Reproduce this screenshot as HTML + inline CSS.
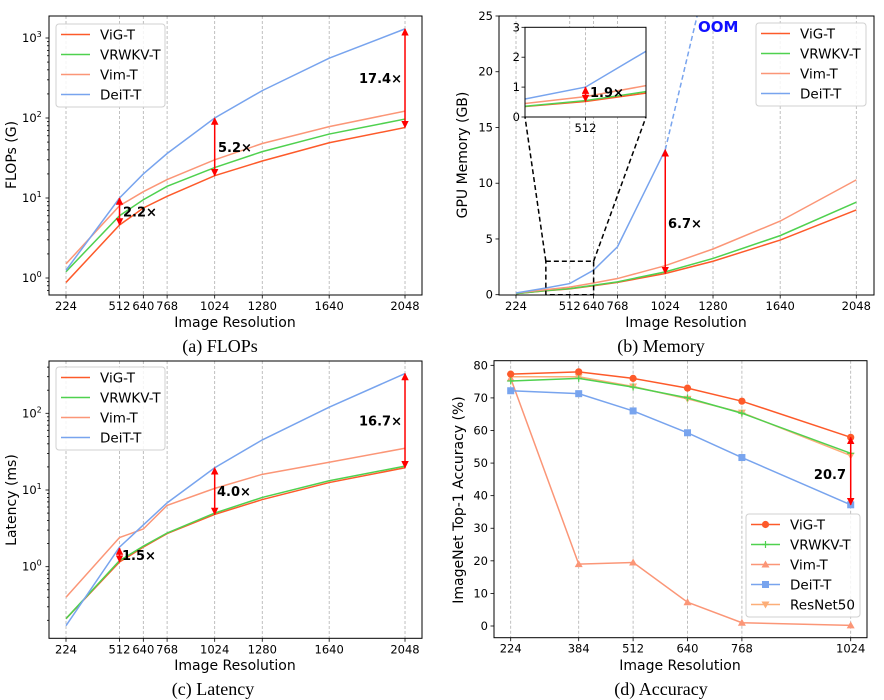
<!DOCTYPE html>
<html><head><meta charset="utf-8"><style>
html,body{margin:0;padding:0;background:#fff;}
svg{display:block;font-family:"DejaVu Sans","Liberation Sans",sans-serif;}
</style></head><body>
<svg id="fig" width="884" height="700" viewBox="0 0 884 700" xmlns="http://www.w3.org/2000/svg">
<defs>
<marker id="ah" viewBox="0 0 10 10" refX="9" refY="5" markerWidth="5" markerHeight="5" orient="auto-start-reverse"><path d="M0,0 L10,5 L0,10 z" fill="#ff0000"/></marker>
<clipPath id="clipA"><rect x="49" y="16" width="373" height="279"/></clipPath>
<clipPath id="clipB"><rect x="499" y="16" width="375" height="279"/></clipPath>
<clipPath id="clipBi"><rect x="525" y="27.3" width="121" height="89.7"/></clipPath>
<clipPath id="clipC"><rect x="49" y="361" width="373" height="277"/></clipPath>
<clipPath id="clipD"><rect x="494" y="361" width="373" height="277"/></clipPath>
</defs>
<rect x="0" y="0" width="884" height="700" fill="#fff"/>
</svg>
<script>
// ---------- DATA ----------
const resA = [224, 512, 640, 768, 1024, 1280, 1640, 2048];
const flopsViG = [0.88, 4.6, 7.5, 10.5, 19, 29, 49, 76];
const flopsVRWKV = [1.2, 6, 9.5, 14, 24, 38, 63, 97];
const flopsVim = [1.5, 8, 12, 17, 30, 48, 78, 122];
const flopsDeiT = [1.25, 10, 20, 36, 100, 220, 560, 1300];
const flopsArrowRes = [512, 1024, 2048];
const flopsArrowLo = [4.6, 19, 76];
const flopsArrowHi = [10, 100, 1300];
const flopsArrowLabels = ["2.2×", "5.2×", "17.4×"];

const resB = [224, 384, 512, 640, 768, 1024, 1280, 1640, 2048];
const memViG = [0.1, 0.35, 0.52, 0.8, 1.1, 1.9, 3.0, 4.9, 7.6];
const memVRWKV = [0.1, 0.36, 0.55, 0.85, 1.15, 2.05, 3.25, 5.3, 8.3];
const memVim = [0.15, 0.45, 0.68, 1.05, 1.45, 2.6, 4.1, 6.6, 10.3];
const memDeiTRes = [224, 384, 512, 640, 768, 1024];
const memDeiT = [0.15, 0.6, 1.0, 2.2, 4.3, 13];
const memOOMRes = [1024, 1280];
const memOOM = [13, 31];
const memArrowLabel = "6.7×";
const memInsetLabel = "1.9×";

const resC = [224, 512, 640, 768, 1024, 1280, 1640, 2048];
const latViG = [0.21, 1.15, 1.8, 2.7, 4.8, 7.5, 12.5, 19.5];
const latVRWKV = [0.21, 1.2, 1.85, 2.75, 5.0, 8.0, 13.2, 20.5];
const latVim = [0.4, 2.4, 3.1, 6.3, 10.5, 16, 23, 35];
const latDeiT = [0.17, 1.8, 3.5, 6.8, 19.5, 45, 120, 330];
const latArrowRes = [512, 1024, 2048];
const latArrowLo = [1.15, 4.8, 19.5];
const latArrowHi = [1.75, 19.5, 330];
const latArrowLabels = ["1.5×", "4.0×", "16.7×"];

const resD = [224, 384, 512, 640, 768, 1024];
const accViG = [77.3, 78, 76, 73, 69, 57.9];
const accVRWKV = [75.2, 76, 73.3, 70, 65.3, 53];
const accVim = [76, 19, 19.5, 7.3, 1, 0.2];
const accDeiT = [72.2, 71.3, 66, 59.3, 51.7, 37.2];
const accResNet = [76.5, 76.5, 73.5, 69.7, 65.5, 52.3];
const accTicks = [0, 10, 20, 30, 40, 50, 60, 70, 80];
const memTicks = [0, 5, 10, 15, 20, 25];

const C = {vig:"#fd5a2a", vrwkv:"#4fd14f", vim:"#fb9677", deit:"#78a4ee", res:"#fcae78"};

// ---------- HELPERS ----------
const svg = document.getElementById('fig');
const NS = "http://www.w3.org/2000/svg";
function mk(parent, tag, attrs, name, inter) {
  const e = document.createElementNS(NS, tag);
  for (const k in attrs) e.setAttribute(k, attrs[k]);
  
  
  parent.appendChild(e);
  return e;
}
function txt(parent, x, y, s, size, anchor, name, extra) {
  const a = Object.assign({x:x, y:y, 'font-size':size, 'text-anchor':anchor||'middle', fill:'#000'}, extra||{});
  const t = mk(parent, 'text', a, name, false);
  t.textContent = s;
  return t;
}
function poly(parent, xs, ys, rs, vs, color, name, clip, dash) {
  const pts = rs.map((r,i)=>xs(r).toFixed(2)+','+ys(vs[i]).toFixed(2)).join(' ');
  const a = {points:pts, fill:'none', stroke:color, 'stroke-width':1.5, 'clip-path':'url(#'+clip+')'};
  if (dash) a['stroke-dasharray'] = dash;
  return mk(parent, 'polyline', a, name, false);
}
function arrow(parent, x, y1, y2, name) {
  mk(parent, 'line', {x1:x, y1:y1, x2:x, y2:y2, stroke:'#ff0000', 'stroke-width':1.5, 'marker-start':'url(#ah)', 'marker-end':'url(#ah)'}, name, false);
}
function frame(g, x0, y0, x1, y1, name) {
  mk(g, 'rect', {x:x0, y:y0, width:x1-x0, height:y1-y0, fill:'none', stroke:'#000', 'stroke-width':1}, name, false);
}
function xTicks(g, xs, ticks, yb, y0) {
  ticks.forEach(r=>{
    const x = xs(r);
    mk(g, 'line', {x1:x, y1:y0, x2:x, y2:yb, stroke:'#b0b0b0', 'stroke-width':0.8, 'stroke-dasharray':'3,2'}, 'x-grid-line', false);
    mk(g, 'line', {x1:x, y1:yb, x2:x, y2:yb+3.5, stroke:'#000', 'stroke-width':0.8}, 'x-tick', false);
    txt(g, x, yb+15, String(r), 11.5, 'middle', 'x-tick-label');
  });
}
function logYTicks(g, ys, x0, y0, yb, decades) {
  for (let d = decades[0]-1; d <= decades[decades.length-1]+1; d++) {
    for (let m = 1; m < 10; m++) {
      const v = m*Math.pow(10,d);
      const y = ys(v);
      if (y < y0 || y > yb) continue;
      const len = m===1 ? 3.5 : 2;
      mk(g, 'line', {x1:x0-len, y1:y, x2:x0, y2:y, stroke:'#000', 'stroke-width':0.8}, m===1?'y-tick':'y-minor-tick', false);
      if (m===1) {
        const t = txt(g, x0-6, y+4, '10', 11.5, 'end', 'y-tick-label');
        const sp = document.createElementNS(NS, 'tspan');
        sp.setAttribute('dy', '-5');
        sp.setAttribute('font-size', '8');
        sp.textContent = String(d);
        t.setAttribute('text-anchor','start');
        t.setAttribute('x', x0-27);
        t.appendChild(sp);
      }
    }
  }
}
function legend(g, x, y, w, h, names, colors, markers) {
  mk(g, 'rect', {x:x, y:y, width:w, height:h, rx:3, fill:'#fff', 'fill-opacity':0.85, stroke:'#d0d0d0', 'stroke-width':1}, 'legend-box', false);
  names.forEach((n,i)=>{
    const yy = y + 10.5 + i*20;
    const le = mk(g, 'g', {}, 'legend-entry-'+n.toLowerCase(), true);
    mk(le, 'line', {x1:x+5, y1:yy, x2:x+34, y2:yy, stroke:colors[i], 'stroke-width':1.5}, 'legend-line', false);
    if (markers) marker(le, markers[i], x+19.5, yy, colors[i]);
    txt(le, x+44, yy+5, n, 13.5, 'start', 'legend-label');
  });
}
function marker(g, type, x, y, color) {
  if (type==='o') mk(g, 'circle', {cx:x, cy:y, r:3.6, fill:color}, 'marker-circle', false);
  else if (type==='+') { mk(g,'path',{d:`M${x-3.5},${y}H${x+3.5}M${x},${y-3.5}V${y+3.5}`,stroke:color,'stroke-width':1.2},'marker-plus',false); }
  else if (type==='^') mk(g, 'path', {d:`M${x},${y-4}L${x+4},${y+3}L${x-4},${y+3}Z`, fill:color}, 'marker-triangle-up', false);
  else if (type==='s') mk(g, 'rect', {x:x-3.5, y:y-3.5, width:7, height:7, fill:color}, 'marker-square', false);
  else if (type==='v') mk(g, 'path', {d:`M${x},${y+4}L${x+4},${y-3}L${x-4},${y-3}Z`, fill:color}, 'marker-triangle-down', false);
}
function rotLabel(g, x, y, s, name) {
  txt(g, x, y, s, 14, 'middle', name, {transform:`rotate(-90 ${x} ${y})`});
}
const names4 = ["ViG-T","VRWKV-T","Vim-T","DeiT-T"];
const cols4 = [C.vig, C.vrwkv, C.vim, C.deit];

// ---------- PANEL A ----------
(function(){
  const g = mk(svg, 'g', {}, 'panel-flops', false);
  const xs = r=>66+(r-224)*0.18586, ys = v=>278-80*Math.log10(v);
  const X0=49,X1=422,Y0=16,YB=295;
  xTicks(g, xs, resA, YB, Y0);
  logYTicks(g, ys, X0, Y0, YB, [0,1,2,3]);
  poly(g, xs, ys, resA, flopsViG, C.vig, 'line-vig', 'clipA');
  poly(g, xs, ys, resA, flopsVRWKV, C.vrwkv, 'line-vrwkv', 'clipA');
  poly(g, xs, ys, resA, flopsVim, C.vim, 'line-vim', 'clipA');
  poly(g, xs, ys, resA, flopsDeiT, C.deit, 'line-deit', 'clipA');
  const lx=[123,218,359];
  flopsArrowRes.forEach((r,i)=>{
    arrow(g, xs(r), ys(flopsArrowLo[i]), ys(flopsArrowHi[i]), 'ratio-arrow');
    const t = txt(g, lx[i], (ys(flopsArrowLo[i])+ys(flopsArrowHi[i]))/2+5, flopsArrowLabels[i], 13, 'start', 'ratio-label', {'font-weight':'bold'});
  });
  frame(g, X0, Y0, X1, YB, 'axes-frame');
  legend(g, 56, 24, 109, 83, names4, cols4);
  txt(g, 235, 327, 'Image Resolution', 14, 'middle', 'x-axis-title');
  rotLabel(g, 16, 155, 'FLOPs (G)', 'y-axis-title');
  txt(g, 220, 352, '(a) FLOPs', 18, 'middle', 'caption-a', {'font-family':'"Liberation Serif",serif'});
})();

// ---------- PANEL B ----------
(function(){
  const g = mk(svg, 'g', {}, 'panel-memory', false);
  const xs = r=>516+(r-224)*0.18657, ys = v=>294.7-11.148*v;
  const X0=499,X1=874,Y0=16,YB=295;
  xTicks(g, xs, resA, YB, Y0);
  memTicks.forEach(v=>{
    const y=ys(v);
    mk(g,'line',{x1:X0-3.5,y1:y,x2:X0,y2:y,stroke:'#000','stroke-width':0.8},'y-tick',false);
    txt(g, X0-6, y+4, String(v), 11.5, 'end', 'y-tick-label');
  });
  poly(g, xs, ys, resB, memViG, C.vig, 'line-vig', 'clipB');
  poly(g, xs, ys, resB, memVRWKV, C.vrwkv, 'line-vrwkv', 'clipB');
  poly(g, xs, ys, resB, memVim, C.vim, 'line-vim', 'clipB');
  poly(g, xs, ys, memDeiTRes, memDeiT, C.deit, 'line-deit', 'clipB');
  poly(g, xs, ys, memOOMRes, memOOM, C.deit, 'line-deit-oom', 'clipB', '5,3');
  txt(g, 698, 32, 'OOM', 15, 'start', 'oom-label', {'font-weight':'bold', fill:'#1010ff'});
  arrow(g, xs(1024), ys(memViG[5]), ys(memDeiT[5]), 'ratio-arrow');
  txt(g, 668, 228, memArrowLabel, 13, 'start', 'ratio-label', {'font-weight':'bold'});
  // zoom rectangle
  const zx0=xs(384), zx1=xs(640), zy0=ys(3), zy1=ys(0);
  mk(g,'rect',{x:zx0,y:zy0,width:zx1-zx0,height:zy1-zy0,fill:'none',stroke:'#000','stroke-width':1.5,'stroke-dasharray':'5,3'},'zoom-region',false);
  // inset
  const IX0=525,IX1=646,IY0=27.3,IYB=117;
  const ixs = r=>IX0+(r-384)*(IX1-IX0)/256, iys = v=>IYB-29.9*v;
  mk(g,'line',{x1:zx0,y1:zy0,x2:IX0,y2:IYB,stroke:'#000','stroke-width':1.5,'stroke-dasharray':'5,3'},'zoom-connector',false);
  mk(g,'line',{x1:zx1,y1:zy0,x2:IX1,y2:IYB,stroke:'#000','stroke-width':1.5,'stroke-dasharray':'5,3'},'zoom-connector',false);
  const ig = mk(g,'g',{},'inset-axes',false);
  mk(ig,'rect',{x:IX0,y:IY0,width:IX1-IX0,height:IYB-IY0,fill:'#fff'},'inset-background',false);
  mk(ig,'line',{x1:ixs(512),y1:IY0,x2:ixs(512),y2:IYB,stroke:'#b0b0b0','stroke-width':0.8,'stroke-dasharray':'3,2'},'inset-grid',false);
  mk(ig,'line',{x1:ixs(512),y1:IYB,x2:ixs(512),y2:IYB+3.5,stroke:'#000','stroke-width':0.8},'inset-x-tick',false);
  txt(ig, ixs(512), IYB+15, '512', 11.5, 'middle', 'inset-x-tick-label');
  [0,1,2,3].forEach(v=>{
    mk(ig,'line',{x1:IX0-3.5,y1:iys(v),x2:IX0,y2:iys(v),stroke:'#000','stroke-width':0.8},'inset-y-tick',false);
    txt(ig, IX0-5, iys(v)+4, String(v), 11.5, 'end', 'inset-y-tick-label');
  });
  poly(ig, ixs, iys, resB, memViG, C.vig, 'inset-line-vig', 'clipBi');
  poly(ig, ixs, iys, resB, memVRWKV, C.vrwkv, 'inset-line-vrwkv', 'clipBi');
  poly(ig, ixs, iys, resB, memVim, C.vim, 'inset-line-vim', 'clipBi');
  poly(ig, ixs, iys, memDeiTRes, memDeiT, C.deit, 'inset-line-deit', 'clipBi');
  arrow(ig, ixs(512), iys(memViG[2]), iys(memDeiT[2]), 'inset-ratio-arrow');
  txt(ig, 590, 97, memInsetLabel, 13, 'start', 'inset-ratio-label', {'font-weight':'bold'});
  frame(ig, IX0, IY0, IX1, IYB, 'inset-frame');
  frame(g, X0, Y0, X1, YB, 'axes-frame');
  legend(g, 756, 23, 110, 83, names4, cols4);
  txt(g, 686, 327, 'Image Resolution', 14, 'middle', 'x-axis-title');
  rotLabel(g, 467, 155, 'GPU Memory (GB)', 'y-axis-title');
  txt(g, 661, 352, '(b) Memory', 18, 'middle', 'caption-b', {'font-family':'"Liberation Serif",serif'});
})();

// ---------- PANEL C ----------
(function(){
  const g = mk(svg, 'g', {}, 'panel-latency', false);
  const xs = r=>66+(r-224)*0.18586, ys = v=>566.7-76.7*Math.log10(v);
  const X0=49,X1=422,Y0=361,YB=638.3;
  xTicks(g, xs, resC, YB, Y0);
  logYTicks(g, ys, X0, Y0, YB, [0,1,2]);
  poly(g, xs, ys, resC, latViG, C.vig, 'line-vig', 'clipC');
  poly(g, xs, ys, resC, latVRWKV, C.vrwkv, 'line-vrwkv', 'clipC');
  poly(g, xs, ys, resC, latVim, C.vim, 'line-vim', 'clipC');
  poly(g, xs, ys, resC, latDeiT, C.deit, 'line-deit', 'clipC');
  const lx=[122,217,359];
  latArrowRes.forEach((r,i)=>{
    arrow(g, xs(r), ys(latArrowLo[i]), ys(latArrowHi[i]), 'ratio-arrow');
    txt(g, lx[i], (ys(latArrowLo[i])+ys(latArrowHi[i]))/2+5, latArrowLabels[i], 13, 'start', 'ratio-label', {'font-weight':'bold'});
  });
  frame(g, X0, Y0, X1, YB, 'axes-frame');
  legend(g, 56, 367, 109, 83, names4, cols4);
  txt(g, 235, 670, 'Image Resolution', 14, 'middle', 'x-axis-title');
  rotLabel(g, 16, 500, 'Latency (ms)', 'y-axis-title');
  txt(g, 213, 695, '(c) Latency', 18, 'middle', 'caption-c', {'font-family':'"Liberation Serif",serif'});
})();

// ---------- PANEL D ----------
(function(){
  const g = mk(svg, 'g', {}, 'panel-accuracy', false);
  const xs = r=>510.7+(r-224)*0.425, ys = v=>626-3.2584*v;
  const X0=494,X1=867,Y0=360.7,YB=637.7;
  xTicks(g, xs, resD, YB, Y0);
  accTicks.forEach(v=>{
    const y=ys(v);
    mk(g,'line',{x1:X0-3.5,y1:y,x2:X0,y2:y,stroke:'#000','stroke-width':0.8},'y-tick',false);
    txt(g, X0-6, y+4, String(v), 11.5, 'end', 'y-tick-label');
  });
  const series = [[accVim,C.vim,'^','vim'],[accDeiT,C.deit,'s','deit'],[accResNet,C.res,'v','resnet50'],[accVRWKV,C.vrwkv,'+','vrwkv'],[accViG,C.vig,'o','vig']];
  series.forEach(s=>{
    poly(g, xs, ys, resD, s[0], s[1], 'line-'+s[3], 'clipD');
    resD.forEach((r,i)=>marker(g, s[2], xs(r), ys(s[0][i]), s[1]));
  });
  arrow(g, xs(1024), ys(accDeiT[5]), ys(accViG[5]), 'ratio-arrow');
  txt(g, 846, 479, '20.7', 13, 'end', 'ratio-label', {'font-weight':'bold'});
  frame(g, X0, Y0, X1, YB, 'axes-frame');
  legend(g, 746, 514, 114, 103, ["ViG-T","VRWKV-T","Vim-T","DeiT-T","ResNet50"], [C.vig,C.vrwkv,C.vim,C.deit,C.res], ['o','+','^','s','v']);
  txt(g, 680, 670, 'Image Resolution', 14, 'middle', 'x-axis-title');
  rotLabel(g, 463, 500, 'ImageNet Top-1 Accuracy (%)', 'y-axis-title');
  txt(g, 661, 695, '(d) Accuracy', 18, 'middle', 'caption-d', {'font-family':'"Liberation Serif",serif'});
})();
</script>
</body></html>
